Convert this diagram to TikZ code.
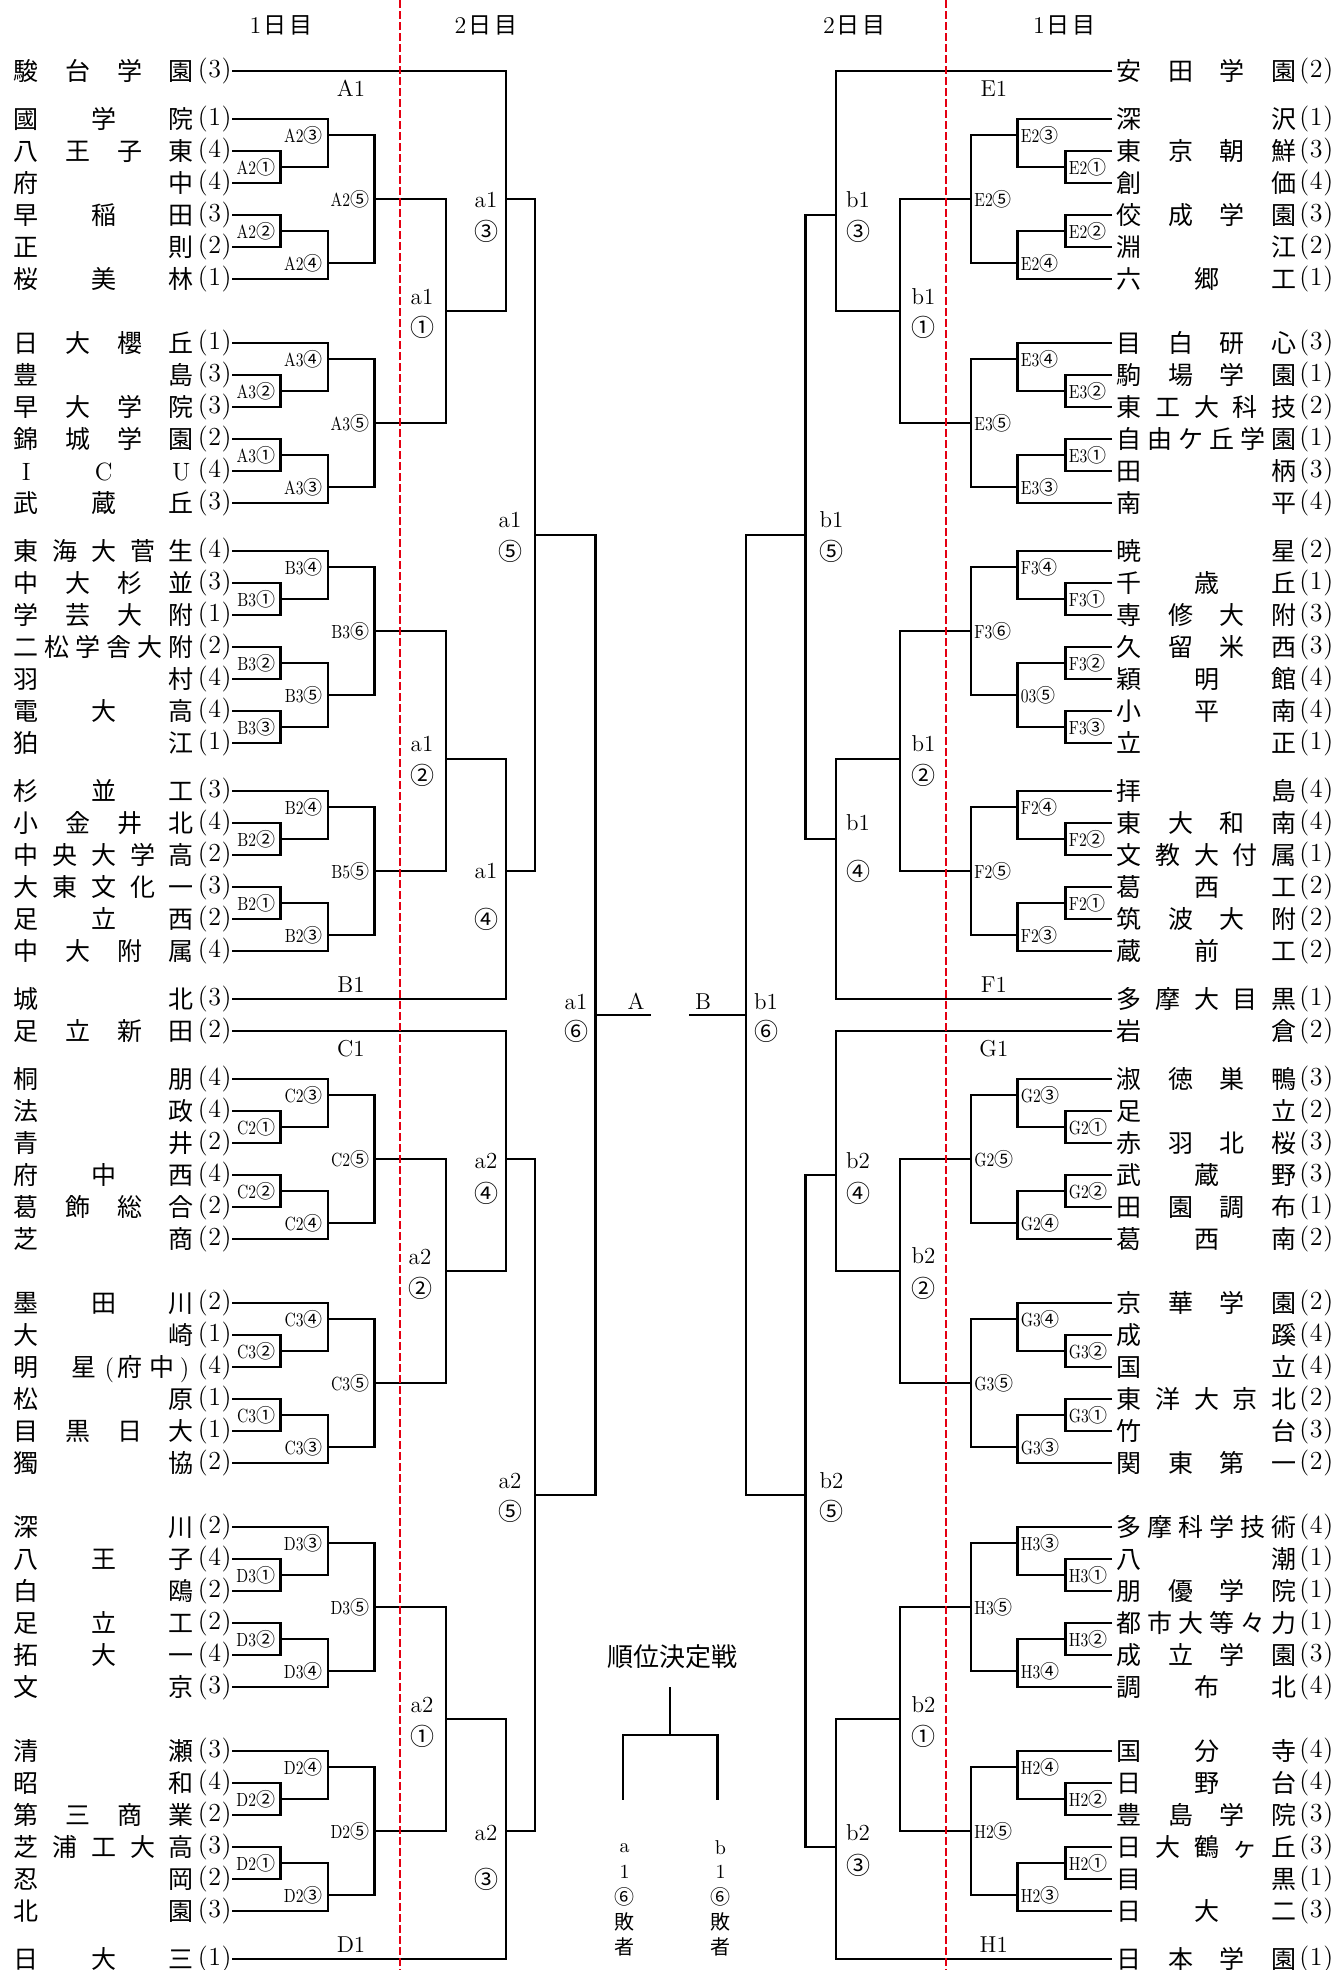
\documentclass[tikz,border=0pt]{standalone}
\usepackage{fontspec}
\usepackage{graphicx}
\newfontfamily\jp{Noto Sans CJK JP}
\definecolor{rl}{RGB}{228,0,18}
\tikzset{
  br/.style={line width=1.3pt, line join=miter, draw=black},
  rdash/.style={draw=rl, line width=1pt, dash pattern=on 4pt off 1.5pt},
  ch/.style={inner sep=0pt, font=\jp\fontsize{12.5pt}{12.5pt}\selectfont, text height=10.2pt, text depth=0.8pt},
  sc/.style={inner sep=0pt, font=\fontsize{13pt}{13pt}\selectfont},
  lab/.style={inner sep=0pt, font=\fontsize{9.5pt}{9.5pt}\selectfont},
  dl/.style={inner sep=0pt, font=\fontsize{11.5pt}{11.5pt}\selectfont},
  dc/.style={inner sep=0pt, font=\jp\fontsize{12pt}{12pt}\selectfont},
  gl/.style={inner sep=0pt, font=\fontsize{11.5pt}{11.5pt}\selectfont},
  hd/.style={inner sep=0pt, font=\jp\fontsize{11.5pt}{11.5pt}\selectfont},
  vt/.style={inner sep=0pt, font=\jp\fontsize{10pt}{10pt}\selectfont},
}
\newcommand\circd[1]{\ifcase#1\or ①\or ②\or ③\or ④\or ⑤\or ⑥\fi}
\newcommand\mlab[2]{\scalebox{0.82}[1]{#1}{\jp\fontsize{9.5pt}{9.5pt}\selectfont\circd{#2}}}
\newcommand\scr[1]{(\hspace{0.3pt}#1\hspace{0.3pt})}
\newcommand\setleft{\def\pS{229}\def\pA{277.5}\def\pB{325}\def\pC{371.6}\def\pD{442.8}\def\pE{503}\def\pF{531.8}\def\pG{592.4}\def\lanc{east}\def\ldx{0-5}}
\newcommand\setright{\def\pS{1109}\def\pA{1062.5}\def\pB{1014.5}\def\pC{968}\def\pD{897}\def\pE{833}\def\pF{802.6}\def\pG{743}\def\lanc{west}\def\ldx{3}}
\newcommand\teamL[4]{%
  \node[sc,anchor=east] (#1) at (229,#2) {\scr{#4}};%
  \foreach \tchar [count=\idx] in {#3} {\xdef\nch{\idx}}%
  \foreach \tchar [count=\idx] in {#3} {\node[ch] at ({23.3+(\idx-1)*155/(\nch-1)},#2) {\tchar};}%
}
\newcommand\teamR[4]{%
  \node[sc,anchor=west] (#1) at (1296,#2) {\scr{#4}};%
  \foreach \tchar [count=\idx] in {#3} {\xdef\nch{\idx}}%
  \foreach \tchar [count=\idx] in {#3} {\node[ch] at ({1126+(\idx-1)*155/(\nch-1)},#2) {\tchar};}%
}
\newcommand\Six[7]{%
  \draw[br] (\pS,#1) -| (\pB,#1+1.5) -- (\pA,#1+1.5);
  \draw[br] (\pS,#1+1) -| (\pA,#1+2) -- (\pS,#1+2);
  \draw[br] (\pS,#1+3) -| (\pA,#1+4) -- (\pS,#1+4);
  \draw[br] (\pA,#1+3.5) -| (\pB,#1+5) -- (\pS,#1+5);
  \draw[br] (\pB,#1+0.5) -| (\pC,#1+4.5) -- (\pB,#1+4.5);
  \node[lab,anchor=\lanc] at ({\pB+\ldx},{#1+0.5}) {\mlab{#2}{#3}};
  \node[lab,anchor=\lanc] at ({\pA+\ldx},{#1+1.5}) {\mlab{#2}{#4}};
  \node[lab,anchor=\lanc] at ({\pA+\ldx},{#1+3.5}) {\mlab{#2}{#5}};
  \node[lab,anchor=\lanc] at ({\pB+\ldx},{#1+4.5}) {\mlab{#2}{#6}};
  \node[lab,anchor=\lanc] at ({\pC+\ldx},{#1+2.5}) {#7};
}
\newcommand\Seven[8]{%
  \draw[br] (\pS,#1) -| (\pB,#1+1.5) -- (\pA,#1+1.5);
  \draw[br] (\pS,#1+1) -| (\pA,#1+2) -- (\pS,#1+2);
  \draw[br] (\pS,#1+3) -| (\pA,#1+4) -- (\pS,#1+4);
  \draw[br] (\pS,#1+5) -| (\pA,#1+6) -- (\pS,#1+6);
  \draw[br] (\pA,#1+3.5) -| (\pB,#1+5.5) -- (\pA,#1+5.5);
  \draw[br] (\pB,#1+0.5) -| (\pC,#1+4.5) -- (\pB,#1+4.5);
  \node[lab,anchor=\lanc] at ({\pB+\ldx},{#1+0.5}) {\mlab{#2}{#3}};
  \node[lab,anchor=\lanc] at ({\pA+\ldx},{#1+1.5}) {\mlab{#2}{#4}};
  \node[lab,anchor=\lanc] at ({\pA+\ldx},{#1+3.5}) {\mlab{#2}{#5}};
  \node[lab,anchor=\lanc] at ({\pA+\ldx},{#1+5.5}) {\mlab{#2}{#6}};
  \node[lab,anchor=\lanc] at ({\pB+\ldx},{#1+4.5}) {#7};
  \node[lab,anchor=\lanc] at ({\pC+\ldx},{#1+2.5}) {#8};
}
\newcommand\dtwo[5]{% x, u1, text, u2, num
  \node[dl] at (#1,#2) {#3};
  \node[dc] at (#1,#4) {\circd{#5}};
}
\begin{document}
\begin{tikzpicture}[x=0.5pt,y=-0.5pt]
\useasboundingbox (0,0) rectangle (1340,1970);
\begin{scope}[xshift=1.5pt]
% headers
\node[hd] (h1) at (278,25) {{\rmfamily\fontsize{12pt}{12pt}\selectfont 1}\hspace{1pt}日\hspace{1.5pt}目};
\node[hd] (h2) at (483,25) {{\rmfamily\fontsize{12pt}{12pt}\selectfont 2}\hspace{1pt}日\hspace{1.5pt}目};
\node[hd] (h3) at (851.5,25) {{\rmfamily\fontsize{12pt}{12pt}\selectfont 2}\hspace{1pt}日\hspace{1.5pt}目};
\node[hd] (h4) at (1061.5,25) {{\rmfamily\fontsize{12pt}{12pt}\selectfont 1}\hspace{1pt}日\hspace{1.5pt}目};
\begin{scope}[yshift=-35.5pt, y=-16pt]
% ---------------- LEFT ----------------
\setleft
\teamL{L0}{0}{駿,台,学,園}{3}
\teamL{L1}{1.5}{國,学,院}{1}
\teamL{L2}{2.5}{八,王,子,東}{4}
\teamL{L3}{3.5}{府,中}{4}
\teamL{L4}{4.5}{早,稲,田}{3}
\teamL{L5}{5.5}{正,則}{2}
\teamL{L6}{6.5}{桜,美,林}{1}
\teamL{L7}{8.5}{日,大,櫻,丘}{1}
\teamL{L8}{9.5}{豊,島}{3}
\teamL{L9}{10.5}{早,大,学,院}{3}
\teamL{L10}{11.5}{錦,城,学,園}{2}
\teamL{L11}{12.5}{{\rmfamily I},{\rmfamily C},{\rmfamily U}}{4}
\teamL{L12}{13.5}{武,蔵,丘}{3}
\teamL{L13}{15}{東,海,大,菅,生}{4}
\teamL{L14}{16}{中,大,杉,並}{3}
\teamL{L15}{17}{学,芸,大,附}{1}
\teamL{L16}{18}{二,松,学,舎,大,附}{2}
\teamL{L17}{19}{羽,村}{4}
\teamL{L18}{20}{電,大,高}{4}
\teamL{L19}{21}{狛,江}{1}
\teamL{L20}{22.5}{杉,並,工}{3}
\teamL{L21}{23.5}{小,金,井,北}{4}
\teamL{L22}{24.5}{中,央,大,学,高}{2}
\teamL{L23}{25.5}{大,東,文,化,一}{3}
\teamL{L24}{26.5}{足,立,西}{2}
\teamL{L25}{27.5}{中,大,附,属}{4}
\teamL{L26}{29}{城,北}{3}
\teamL{L27}{30}{足,立,新,田}{2}
\teamL{L28}{31.5}{桐,朋}{4}
\teamL{L29}{32.5}{法,政}{4}
\teamL{L30}{33.5}{青,井}{2}
\teamL{L31}{34.5}{府,中,西}{4}
\teamL{L32}{35.5}{葛,飾,総,合}{2}
\teamL{L33}{36.5}{芝,商}{2}
\teamL{L34}{38.5}{墨,田,川}{2}
\teamL{L35}{39.5}{大,崎}{1}
\node[sc,anchor=east] (L36) at (229,40.5) {\scr{4}};
\node[ch] (L36a) at (23.3,40.5) {明};
\node[ch] (L36b) at (80.5,40.5) {星};
\node[ch,font=\fontsize{12.5pt}{12.5pt}\selectfont] (L36c) at (106.4,40.5) {(};
\node[ch] (L36d) at (127,40.5) {府};
\node[ch] (L36e) at (158.8,40.5) {中};
\node[ch,font=\fontsize{12.5pt}{12.5pt}\selectfont] (L36f) at (181.7,40.5) {)};
\teamL{L37}{41.5}{松,原}{1}
\teamL{L38}{42.5}{目,黒,日,大}{1}
\teamL{L39}{43.5}{獨,協}{2}
\teamL{L40}{45.5}{深,川}{2}
\teamL{L41}{46.5}{八,王,子}{4}
\teamL{L42}{47.5}{白,鴎}{2}
\teamL{L43}{48.5}{足,立,工}{2}
\teamL{L44}{49.5}{拓,大,一}{4}
\teamL{L45}{50.5}{文,京}{3}
\teamL{L46}{52.5}{清,瀬}{3}
\teamL{L47}{53.5}{昭,和}{4}
\teamL{L48}{54.5}{第,三,商,業}{2}
\teamL{L49}{55.5}{芝,浦,工,大,高}{3}
\teamL{L50}{56.5}{忍,岡}{2}
\teamL{L51}{57.5}{北,園}{3}
\teamL{L52}{59}{日,大,三}{1}
% groups
\Six{1.5}{A2}{3}{1}{2}{4}{\mlab{A2}{5}}
\Six{8.5}{A3}{4}{2}{1}{3}{\mlab{A3}{5}}
\Seven{15}{B3}{4}{1}{2}{3}{\mlab{B3}{5}}{\mlab{B3}{6}}
\Six{22.5}{B2}{4}{2}{1}{3}{\mlab{B5}{5}}
\Six{31.5}{C2}{3}{1}{2}{4}{\mlab{C2}{5}}
\Six{38.5}{C3}{4}{2}{1}{3}{\mlab{C3}{5}}
\Six{45.5}{D3}{3}{1}{2}{4}{\mlab{D3}{5}}
\Six{52.5}{D2}{4}{2}{1}{3}{\mlab{D2}{5}}
% day 2 left
\draw[br] (L0.east) -| (\pE,7.5) -- (\pD,7.5);
\draw[br] (\pC,4) -| (\pD,11) -- (\pC,11);
\draw[br] (\pC,17.5) -| (\pD,25) -- (\pC,25);
\draw[br] (\pD,21.5) -| (\pE,29) -- (L26.east);
\draw[br] (\pE,4) -| (\pF,25) -- (\pE,25);
\draw[br] (\pF,14.5) -| (\pG,44.5) -- (\pF,44.5);
\draw[br] (L27.east) -| (\pE,37.5) -- (\pD,37.5);
\draw[br] (\pC,34) -| (\pD,41) -- (\pC,41);
\draw[br] (\pC,48) -| (\pD,55) -- (\pC,55);
\draw[br] (\pD,51.5) -| (\pE,59) -- (L52.east);
\draw[br] (\pE,34) -| (\pF,55) -- (\pE,55);
\node[gl] (Aname) at (633,29.08) {A};
\coordinate (Aend) at (648.3,29.5);
\draw[br] (\pG,29.5) -- (Aend);
% group labels
\node[gl] at (348,0.54) {A1};
\node[gl] at (348,28.54) {B1};
\node[gl] at (348,30.56) {C1};
\node[gl] at (348,58.54) {D1};
% day2 labels left
\dtwo{483}{4.03}{a1}{5.0}{3}
\dtwo{419}{7.05}{a1}{8.0}{1}
\dtwo{507}{14.03}{a1}{15.0}{5}
\dtwo{419}{21.03}{a1}{22.0}{2}
\dtwo{483}{25.0}{a1}{26.5}{4}
\dtwo{573}{29.08}{a1}{30.0}{6}
\dtwo{483}{34.05}{a2}{35.07}{4}
\dtwo{417}{37.05}{a2}{38.04}{2}
\dtwo{507}{44.05}{a2}{45.0}{5}
\dtwo{419}{51.06}{a2}{52.05}{1}
\dtwo{483}{55.05}{a2}{56.5}{3}
% ---------------- RIGHT ----------------
\setright
\teamR{R0}{0}{安,田,学,園}{2}
\teamR{R1}{1.5}{深,沢}{1}
\teamR{R2}{2.5}{東,京,朝,鮮}{3}
\teamR{R3}{3.5}{創,価}{4}
\teamR{R4}{4.5}{佼,成,学,園}{3}
\teamR{R5}{5.5}{淵,江}{2}
\teamR{R6}{6.5}{六,郷,工}{1}
\teamR{R7}{8.5}{目,白,研,心}{3}
\teamR{R8}{9.5}{駒,場,学,園}{1}
\teamR{R9}{10.5}{東,工,大,科,技}{2}
\teamR{R10}{11.5}{自,由,ケ,丘,学,園}{1}
\teamR{R11}{12.5}{田,柄}{3}
\teamR{R12}{13.5}{南,平}{4}
\teamR{R13}{15}{暁,星}{2}
\teamR{R14}{16}{千,歳,丘}{1}
\teamR{R15}{17}{専,修,大,附}{3}
\teamR{R16}{18}{久,留,米,西}{3}
\teamR{R17}{19}{穎,明,館}{4}
\teamR{R18}{20}{小,平,南}{4}
\teamR{R19}{21}{立,正}{1}
\teamR{R20}{22.5}{拝,島}{4}
\teamR{R21}{23.5}{東,大,和,南}{4}
\teamR{R22}{24.5}{文,教,大,付,属}{1}
\teamR{R23}{25.5}{葛,西,工}{2}
\teamR{R24}{26.5}{筑,波,大,附}{2}
\teamR{R25}{27.5}{蔵,前,工}{2}
\teamR{R26}{29}{多,摩,大,目,黒}{1}
\teamR{R27}{30}{岩,倉}{2}
\teamR{R28}{31.5}{淑,徳,巣,鴨}{3}
\teamR{R29}{32.5}{足,立}{2}
\teamR{R30}{33.5}{赤,羽,北,桜}{3}
\teamR{R31}{34.5}{武,蔵,野}{3}
\teamR{R32}{35.5}{田,園,調,布}{1}
\teamR{R33}{36.5}{葛,西,南}{2}
\teamR{R34}{38.5}{京,華,学,園}{2}
\teamR{R35}{39.5}{成,蹊}{4}
\teamR{R36}{40.5}{国,立}{4}
\teamR{R37}{41.5}{東,洋,大,京,北}{2}
\teamR{R38}{42.5}{竹,台}{3}
\teamR{R39}{43.5}{関,東,第,一}{2}
\teamR{R40}{45.5}{多,摩,科,学,技,術}{4}
\teamR{R41}{46.5}{八,潮}{1}
\teamR{R42}{47.5}{朋,優,学,院}{1}
\teamR{R43}{48.5}{都,市,大,等,々,力}{1}
\teamR{R44}{49.5}{成,立,学,園}{3}
\teamR{R45}{50.5}{調,布,北}{4}
\teamR{R46}{52.5}{国,分,寺}{4}
\teamR{R47}{53.5}{日,野,台}{4}
\teamR{R48}{54.5}{豊,島,学,院}{3}
\teamR{R49}{55.5}{日,大,鶴,ヶ,丘}{3}
\teamR{R50}{56.5}{目,黒}{1}
\teamR{R51}{57.5}{日,大,二}{3}
\teamR{R52}{59}{日,本,学,園}{1}
\Six{1.5}{E2}{3}{1}{2}{4}{\mlab{E2}{5}}
\Six{8.5}{E3}{4}{2}{1}{3}{\mlab{E3}{5}}
\Seven{15}{F3}{4}{1}{2}{3}{\mlab{03}{5}}{\mlab{F3}{6}}
\Six{22.5}{F2}{4}{2}{1}{3}{\mlab{F2}{5}}
\Six{31.5}{G2}{3}{1}{2}{4}{\mlab{G2}{5}}
\Six{38.5}{G3}{4}{2}{1}{3}{\mlab{G3}{5}}
\Six{45.5}{H3}{3}{1}{2}{4}{\mlab{H3}{5}}
\Six{52.5}{H2}{4}{2}{1}{3}{\mlab{H2}{5}}
% day 2 right
\draw[br] (\pS,0) -| (\pE,7.5) -- (\pD,7.5);
\draw[br] (\pC,4) -| (\pD,11) -- (\pC,11);
\draw[br] (\pC,17.5) -| (\pD,25) -- (\pC,25);
\draw[br] (\pD,21.5) -| (\pE,29) -- (\pS,29);
\draw[br] (\pE,4.5) -| (\pF,24) -- (\pE,24);
\draw[br] (\pF,14.5) -| (\pG,44.5) -- (\pF,44.5);
\draw[br] (\pS,30) -| (\pE,37.5) -- (\pD,37.5);
\draw[br] (\pC,34) -| (\pD,41) -- (\pC,41);
\draw[br] (\pC,48) -| (\pD,55) -- (\pC,55);
\draw[br] (\pD,51.5) -| (\pE,59) -- (\pS,59);
\draw[br] (\pE,34.5) -| (\pF,55.5) -- (\pE,55.5);
\node[gl] (Bname) at (700,29.08) {B};
\coordinate (Bend) at (686,29.5);
\draw[br] (\pG,29.5) -- (Bend);
\node[gl] at (990.8,0.54) {E1};
\node[gl] at (990.8,28.54) {F1};
\node[gl] at (990.8,30.56) {G1};
\node[gl] at (990.8,58.54) {H1};
\dtwo{855}{4.03}{b1}{5.0}{3}
\dtwo{920.5}{7.05}{b1}{8.0}{1}
\dtwo{828.6}{14.03}{b1}{15.0}{5}
\dtwo{920.5}{21.03}{b1}{22.0}{2}
\dtwo{855}{23.5}{b1}{25.0}{4}
\dtwo{763}{29.08}{b1}{30.0}{6}
\dtwo{855}{34.05}{b2}{35.07}{4}
\dtwo{920.5}{37.03}{b2}{38.04}{2}
\dtwo{828.6}{44.05}{b2}{45.0}{5}
\dtwo{920.5}{51.06}{b2}{52.05}{1}
\dtwo{855}{55.05}{b2}{56.06}{3}
% ---------------- placement match ----------------
\node[inner sep=0pt, font=\jp\fontsize{13pt}{13pt}\selectfont] (jk) at (669,49.55) {順位決定戦};
\coordinate (jt) at (667,50.5);
\coordinate (jm) at (667,52);
\coordinate (jl) at (620,54.03);
\coordinate (jr) at (714.5,54.03);
\draw[br] (jt) -- (jm);
\draw[br] (jl) |- (jm) -| (jr);
\node[vt,font=\fontsize{10pt}{10pt}\selectfont] at (621.6,55.53) {a};
\node[vt,font=\fontsize{10pt}{10pt}\selectfont] at (621.6,56.28) {1};
\node[vt] at (621.6,57.06) {⑥};
\node[vt] at (621.6,57.84) {敗};
\node[vt] at (621.6,58.62) {者};
\node[vt,font=\fontsize{10pt}{10pt}\selectfont] at (717.5,55.53) {b};
\node[vt,font=\fontsize{10pt}{10pt}\selectfont] at (717.5,56.28) {1};
\node[vt] at (717.5,57.06) {⑥};
\node[vt] at (717.5,57.84) {敗};
\node[vt] at (717.5,58.62) {者};
\end{scope}
% red day separators
\draw[rdash] (397,0) -- (397,1970);
\draw[rdash] (943,0) -- (943,1970);
\end{scope}
\end{tikzpicture}
\end{document}
